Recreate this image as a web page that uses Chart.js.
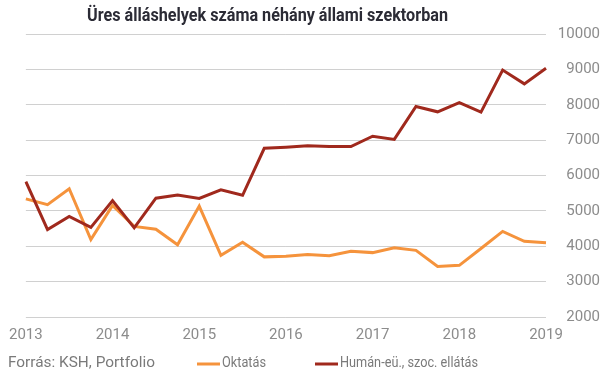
<!DOCTYPE html>
<html><head><meta charset="utf-8">
<script src="https://cdn.jsdelivr.net/npm/chart.js@4/dist/chart.umd.min.js"></script>
<style>html,body{margin:0;padding:0;background:#fff}#wrap{width:605px;height:378px}</style>
</head><body><div id="wrap"><canvas id="c" width="605" height="378"></canvas></div>
<script>
const chartTitle = 'Üres álláshelyek száma néhány állami szektorban';
const sourceText = 'Forrás: KSH, Portfolio';
const periods = [
  '2013 I.','2013 II.','2013 III.','2013 IV.',
  '2014 I.','2014 II.','2014 III.','2014 IV.',
  '2015 I.','2015 II.','2015 III.','2015 IV.',
  '2016 I.','2016 II.','2016 III.','2016 IV.',
  '2017 I.','2017 II.','2017 III.','2017 IV.',
  '2018 I.','2018 II.','2018 III.','2018 IV.',
  '2019 I.'
];
const yearTicks = ['2013','2014','2015','2016','2017','2018','2019'];
const oktatas = [5340,5175,5625,4190,5155,4560,4480,4040,5135,3745,4115,3700,3720,3770,3730,3860,3820,3960,3885,3430,3460,3935,4420,4140,4100];
const human = [5830,4470,4845,4535,5290,4520,5360,5445,5350,5595,5440,6770,6800,6840,6820,6820,7110,7020,7950,7800,8060,7790,8980,8590,9030];
const seriesNames = ['Oktatás','Humán-eü., szoc. ellátás'];
const seriesColors = ['#F5933C','#A0291D'];
const yMin = 2000, yMax = 10000, yStep = 1000;

function fitText(ctx, text, x, y, width) {
  const w = ctx.measureText(text).width;
  const s = width / w;
  ctx.save();
  ctx.translate(x, y);
  ctx.scale(s, 1);
  ctx.fillText(text, 0, 0);
  ctx.restore();
}

const footerPlugin = {
  id: 'footer',
  afterDraw(chart) {
    const ctx = chart.ctx;
    ctx.save();
    ctx.textBaseline = 'middle';
    ctx.textAlign = 'left';
    ctx.font = 'bold 19px Roboto';
    ctx.fillStyle = '#2b2b35';
    fitText(ctx, chartTitle, 87, 16, 361);
    ctx.font = '15px Roboto';
    ctx.fillStyle = '#7a7a7a';
    fitText(ctx, sourceText, 8, 363, 147);
    const legendX = [197, 315];
    const legendW = [44, 138];
    chart.data.datasets.forEach((ds, i) => {
      const x = legendX[i];
      ctx.strokeStyle = ds.borderColor;
      ctx.lineWidth = 3;
      ctx.beginPath();
      ctx.moveTo(x, 364); ctx.lineTo(x + 23, 364);
      ctx.stroke();
      ctx.fillStyle = '#7a7a7a';
      fitText(ctx, ds.label, x + 25, 363, legendW[i]);
    });
    ctx.restore();
  }
};

new Chart(document.getElementById('c'), {
  type: 'line',
  data: {
    labels: periods,
    datasets: [
      { label: seriesNames[0], data: oktatas, borderColor: seriesColors[0], backgroundColor: seriesColors[0], borderWidth: 3, pointRadius: 0, tension: 0, order: 1 },
      { label: seriesNames[1], data: human, borderColor: seriesColors[1], backgroundColor: seriesColors[1], borderWidth: 3, pointRadius: 0, tension: 0, order: 0 }
    ]
  },
  options: {
    responsive: false,
    animation: false,
    devicePixelRatio: 1,
    layout: { padding: { top: 34, left: 22, right: 5, bottom: 25 } },
    plugins: { legend: { display: false }, title: { display: false }, tooltip: { enabled: false } },
    scales: {
      x: {
        offset: false,
        grid: { display: false, drawTicks: false },
        border: { display: false },
        ticks: {
          autoSkip: false, maxRotation: 0, padding: 9,
          color: '#8c8c8c', font: { family: 'Roboto', size: 15 },
          callback: (v, i) => (i % 4 === 0 ? yearTicks[i / 4] : '')
        }
      },
      y: {
        position: 'right',
        min: yMin, max: yMax,
        afterFit: s => { s.width = 54; },
        grid: { color: '#d0d0d0', lineWidth: 1, drawTicks: false },
        border: { display: false },
        ticks: {
          stepSize: yStep, padding: 12, crossAlign: 'far',
          color: '#8c8c8c', font: { family: 'Roboto', size: 15 },
          callback: v => String(v)
        }
      }
    }
  },
  plugins: [footerPlugin]
});
</script></body></html>
